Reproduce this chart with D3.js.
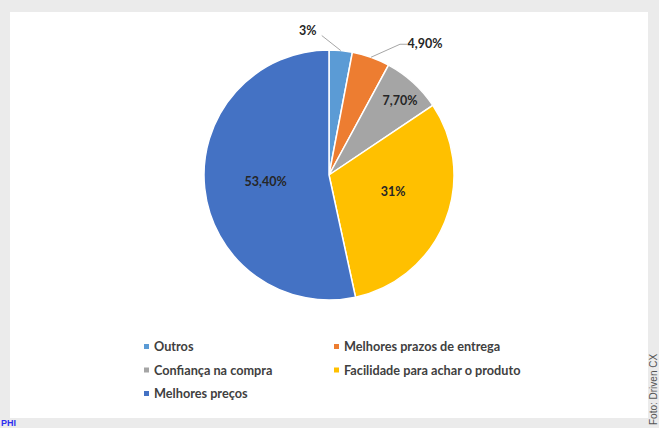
<!DOCTYPE html>
<html lang="pt">
<head>
<meta charset="utf-8">
<title>Pie</title>
<script src="https://d3js.org/d3.v7.min.js"></script>
<style>
  html, body { margin: 0; padding: 0; background: #ebebeb; }
  svg { display: block; }
</style>
</head>
<body>
<script>
  // data
  var categories = ["Outros", "Melhores prazos de entrega", "Confiança na compra", "Facilidade para achar o produto", "Melhores preços"];
  var values = [3, 4.9, 7.7, 31, 53.4];
  var valueLabels = ["3%", "4,90%", "7,70%", "31%", "53,40%"];
  var colors = ["#5b9bd5", "#ed7d31", "#a5a5a5", "#ffc000", "#4472c4"];

  var svgWidth = 659, svgHeight = 428,
      cx = 329, cy = 175, radius = 125;

  var svg = d3.select("body").append("svg")
      .attr("width", svgWidth)
      .attr("height", svgHeight);

  // gray frame + white panel
  svg.append("rect").attr("width", svgWidth).attr("height", svgHeight).attr("fill", "#ebebeb");
  svg.append("rect").attr("x", 10).attr("y", 12).attr("width", 638).attr("height", 406).attr("fill", "#fff");

  var color = d3.scaleOrdinal().domain(categories).range(colors);

  var pie = d3.pie().sort(null).value(function(d) { return d; });
  var arcs = pie(values);

  var arc = d3.arc().innerRadius(0).outerRadius(radius);

  var g = svg.append("g").attr("transform", "translate(" + cx + "," + cy + ")");

  g.selectAll("path.slice")
    .data(arcs)
    .enter().append("path")
    .attr("class", "slice")
    .attr("d", arc)
    .attr("fill", function(d, i) { return color(categories[i]); })
    .attr("stroke", "#fff")
    .attr("stroke-width", 1.5);

  // label layout: inside labels placed by angle/radius, outside ones get a leader line
  var labelLayout = [
    { outside: true, dx: -19, dy: -15, run: 0, side: -1 },
    { outside: true, dx: 29, dy: -13, run: 7, side: 1 },
    { outside: false, r: 0.82, shift: 0.054 },
    { outside: false, r: 0.53, shift: -0.064 },
    { outside: false, r: 0.51, shift: 0 }
  ];

  function polar(a, r) { return [r * Math.sin(a), -r * Math.cos(a)]; }

  arcs.forEach(function(d, i) {
    var L = labelLayout[i];
    var mid = (d.startAngle + d.endAngle) / 2;
    var pos;
    if (L.outside) {
      var p0 = polar(mid, radius);
      var p1 = [p0[0] + L.dx, p0[1] + L.dy];
      var p2 = [p1[0] + L.side * L.run, p1[1]];
      g.append("polyline")
        .attr("points", [p0, p1, p2].map(function(p) { return p.join(","); }).join(" "))
        .attr("fill", "none")
        .attr("stroke", "#a6a6a6")
        .attr("stroke-width", 1);
      if (L.side > 0) pos = [p2[0] + 18, p2[1] - 1];
      else pos = [p2[0] - 14, p2[1] - 5];
    } else {
      pos = polar(mid + L.shift * (d.endAngle - d.startAngle), radius * L.r);
    }
    g.append("text")
      .attr("x", pos[0])
      .attr("y", pos[1])
      .attr("dy", "0.35em")
      .attr("text-anchor", "middle")
      .attr("font-family", "Lato, 'Open Sans', sans-serif")
      .attr("font-weight", "bold")
      .attr("font-size", 12.5)
      .attr("fill", "#262626")
      .text(valueLabels[i]);
  });

  // legend
  var legend = svg.append("g")
      .attr("font-family", "Lato, 'Open Sans', sans-serif")
      .attr("font-weight", "bold")
      .attr("font-size", 12.7)
      .attr("fill", "#404040")
      .selectAll("g")
      .data(categories)
      .enter().append("g")
      .attr("transform", function(d, i) {
        return "translate(" + (i % 2 ? 334 : 144) + "," + (347 + Math.floor(i / 2) * 23.5) + ")";
      });

  legend.append("rect")
      .attr("x", 0).attr("y", -3)
      .attr("width", 5).attr("height", 5)
      .attr("fill", color);

  legend.append("text")
      .attr("x", 10)
      .attr("dy", "0.35em")
      .text(function(d) { return d; });

  // credits
  svg.append("text")
      .attr("x", 1).attr("y", 426)
      .attr("font-family", "Liberation Sans, Arial, sans-serif")
      .attr("font-size", 9)
      .attr("font-weight", "bold")
      .attr("fill", "#2e2ef0")
      .text("PHI");

  svg.append("text")
      .attr("transform", "translate(657,425) rotate(-90)")
      .attr("font-family", "Liberation Sans, Arial, sans-serif")
      .attr("font-size", 10)
      .attr("fill", "#555")
      .text("Foto:  Driven CX");
</script>
</body>
</html>
